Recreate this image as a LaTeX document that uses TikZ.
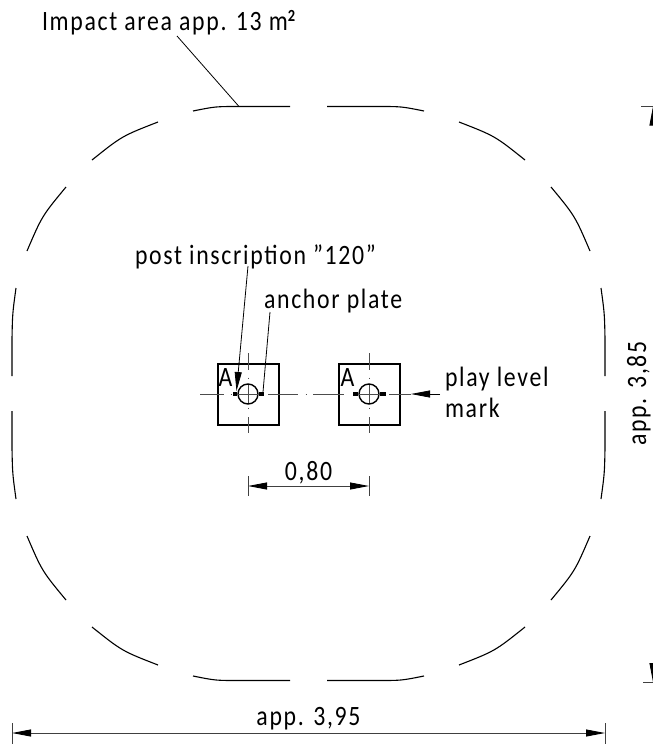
\documentclass[tikz,border=0pt]{standalone}
\usepackage{fontspec}
\setmainfont[LetterSpace=6,FakeStretch=0.85]{Carlito}
\usetikzlibrary{arrows.meta}
\tikzset{
  outline/.style={line width=1.1pt,black},
  part/.style={draw,line width=1.5pt,minimum size=61pt,inner sep=0pt,outer sep=0pt},
  hole/.style={circle,draw,line width=1.4pt,minimum size=20pt,inner sep=0pt,fill=none},
  centre/.style={line width=0.8pt,black!70},
  plate/.style={line width=3.2pt,black},
  leader/.style={line width=0.8pt},
  dimline/.style={line width=0.9pt,black!75},
  ticks/.style={line width=0.9pt,black!75},
  tip/.style={-{Triangle[length=19pt,width=7pt,black]}},
  tips/.style={{Triangle[length=19pt,width=7pt,black]}-{Triangle[length=19pt,width=7pt,black]}},
  label/.style={inner sep=0pt,outer sep=0pt,anchor=base west,font=\fontsize{28}{28}\selectfont},
}
\begin{document}
\begin{tikzpicture}[x=1pt,y=-1pt]
\useasboundingbox (0,0) rectangle (653,744);
% impact area outline
\foreach \sx/\sy in {1/1,-1/1,1/-1,-1/-1}{
\begin{scope}[shift={(308.5,393.5)},xscale=\sx,yscale=\sy]
\draw[outline] (-115.5,-282.5) .. controls (-93,-287) .. (-70,-287) -- (-18.5,-287);
\draw[outline] (-216.5,-233.5) .. controls (-186.5,-257.5) .. (-150.5,-271.5);
\draw[outline] (-281.5,-142.5) .. controls (-266.5,-177.5) .. (-242.5,-206.5);
\draw[outline] (-292.5,-105.5) .. controls (-296,-80) .. (-296.5,-55) -- (-296.5,-17.5);
\end{scope}}
% posts
\node[part] (p1) at (248.5,394.5) {};
\node[part] (p2) at (369.5,394.5) {};
\node[hole] (h1) at (248,394) {};
\node[hole] (h2) at (369,394) {};
\coordinate (q1) at (233,394);
\coordinate (q2) at (264,394);
\coordinate (q3) at (353,394);
\coordinate (q4) at (386,394);
\draw[plate] (q1) -- (h1.west);
\draw[plate] (h1.east) -- (q2);
\draw[plate] (q3) -- (h2.west);
\draw[plate] (h2.east) -- (q4);
% centre lines
\draw[centre] (200,394) -- (224,394) (230.5,394) -- (231.5,394) (248,385) -- (248,403)
  (238,394) -- (258,394) (268,394) -- (298,394) (305.5,394) -- (306.5,394) (313,394) -- (344,394);
\draw[centre] (248,353) -- (248,370) (248,377.5) -- (248,378.5) (248,407.5) -- (248,408.5) (248,417) -- (248,433);
\draw[centre] (369,353) -- (369,370) (369,377.5) -- (369,378.5) (369,385) -- (369,403) (369,407.5) -- (369,408.5) (369,417) -- (369,433) (359,394) -- (379,394);
% texts
\node[label] (a1) at (218.5,386) {A};
\node[label] (a2) at (340.5,386) {A};
\node[label] (impact) at (42,30) {Impact area app. 13 m\raisebox{9pt}{\fontsize{17}{17}\selectfont\bfseries 2}};
\node[label] (post) at (135,264) {post inscription "120"};
\node[label] (anchor) at (264,308) {anchor plate};
\node[label] (level) at (445,386) {play level};
\node[label] (mark) at (445,417) {mark};
\node[label,anchor=base] (d080) at (308.5,480) {0,80};
\node[label,anchor=base] (d395) at (308.5,725) {app. 3,95};
\node[label,anchor=base,rotate=90] (d385) at (646,393.5) {app. 3,85};
% leaders
\coordinate (c1) at (177,36);
\coordinate (c2) at (239,106.5);
\draw[leader] (c1) -- (c2);
\coordinate (c3) at (248,266);
\coordinate (c4) at (236.5,391);
\draw[leader,tip] (c3) -- (c4);
\coordinate (c5) at (270,312);
\coordinate (c6) at (263,392);
\draw[leader] (c5) -- (c6);
\coordinate (c7) at (440,394);
\coordinate (c8) at (411,394);
\draw[leader,tip] (c7) -- (c8);
\draw[centre] (389,394) -- (411,394);
% dimensions
\coordinate (e1) at (248,486);
\coordinate (e2) at (369,486);
\draw[dimline,tips] (e1) -- (e2);
\draw[ticks] (248,476) -- (248,496) (369,476) -- (369,496);
\coordinate (e3) at (12,733);
\coordinate (e4) at (605,733);
\draw[dimline,tips] (e3) -- (e4);
\draw[ticks] (12,723) -- (12,744) (605,723) -- (605,744);
\coordinate (e5) at (653,106.5);
\coordinate (e6) at (653,682);
\draw[dimline,tips] (e5) -- (e6);
\draw[ticks] (641,106.5) -- (653,106.5) (643,682) -- (653,682);
\end{tikzpicture}
\end{document}
